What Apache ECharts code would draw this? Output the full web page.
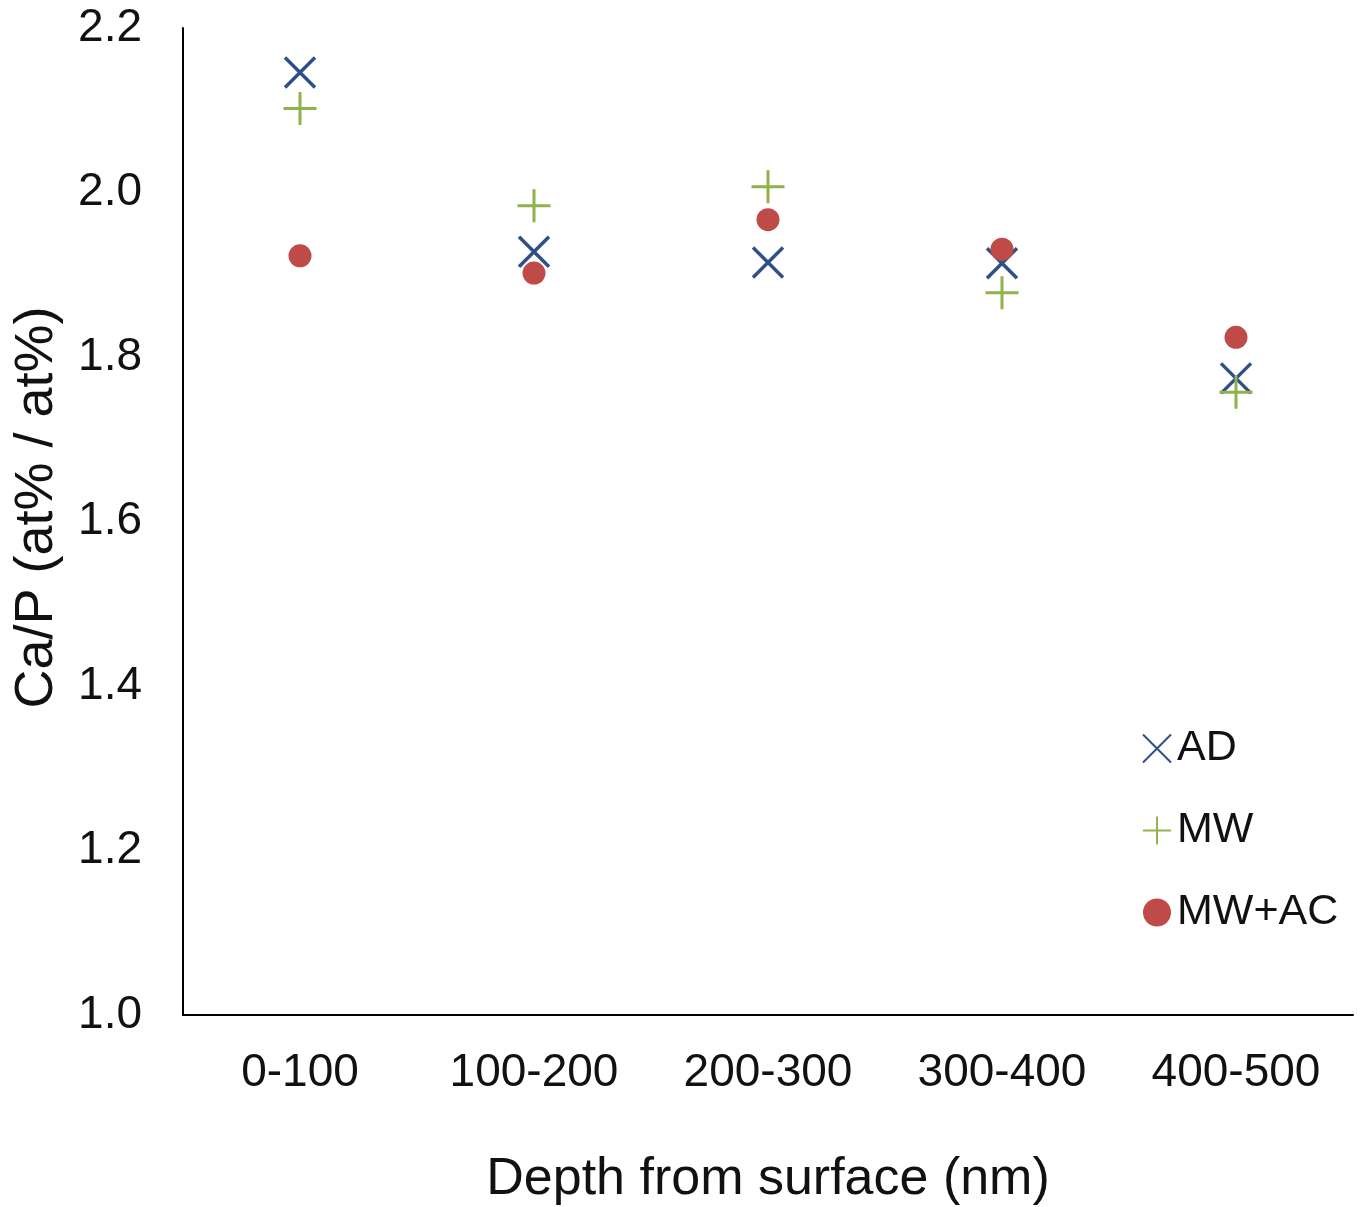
<!DOCTYPE html>
<html>
<head>
<meta charset="utf-8">
<script src="https://cdn.jsdelivr.net/npm/echarts@6/dist/echarts.min.js"></script>
<style>
html, body { margin: 0; padding: 0; background: #fff; }
#chart { width: 1360px; height: 1207px; }
</style>
</head>
<body>
<div id="chart"></div>
<script>
const categories = ['0-100', '100-200', '200-300', '300-400', '400-500']
const adValues = [2.146, 1.928, 1.915, 1.914, 1.774]
const mwValues = [2.102, 1.984, 2.007, 1.878, 1.757]
const mwacValues = [1.923, 1.902, 1.967, 1.931, 1.824]

const crossPath = 'path://M0,0 L10,10 M10,0 L0,10'
const plusPath = 'path://M5,0 L5,10 M0,5 L10,5'
const font = 'Liberation Sans, Arial, sans-serif'
const textColor = '#111'

const chart = echarts.init(document.getElementById('chart'))
chart.setOption({
    animation: false,
    backgroundColor: '#fff',
    textStyle: { fontFamily: font },
    grid: { left: 183, right: 7, top: 28, bottom: 192, outerBoundsMode: 'none', containLabel: false },
    legend: {
        orient: 'vertical',
        left: 1137,
        top: 722,
        itemGap: 39,
        itemWidth: 28,
        itemHeight: 28,
        textStyle: { fontSize: 43, color: textColor, fontFamily: font, padding: [0, 0, 0, 1] },
        data: ['AD', 'MW', 'MW+AC']
    },
    xAxis: {
        type: 'category',
        data: categories,
        boundaryGap: true,
        axisLine: { lineStyle: { color: '#000', width: 2 } },
        axisTick: { show: false },
        axisLabel: { fontSize: 46, color: textColor, margin: 35 },
        name: 'Depth from surface (nm)',
        nameLocation: 'middle',
        nameGap: 139,
        nameTextStyle: { fontSize: 52, color: textColor }
    },
    yAxis: {
        type: 'value',
        min: 1.0,
        max: 2.2,
        interval: 0.2,
        axisLine: { show: true, lineStyle: { color: '#000', width: 2 } },
        axisTick: { show: false },
        splitLine: { show: false },
        axisLabel: { fontSize: 46, color: textColor, margin: 41, formatter: v => v.toFixed(1) },
        name: 'Ca/P (at% / at%)',
        nameLocation: 'middle',
        nameGap: 119,
        nameTextStyle: { fontSize: 54, color: textColor, padding: [0, 0, 0, 28] }
    },
    series: [
        {
            name: 'AD',
            type: 'scatter',
            data: adValues,
            symbol: crossPath,
            symbolSize: 30,
            itemStyle: { color: '#2f4f88', borderColor: '#2f4f88', borderWidth: 3.5, opacity: 1 }
        },
        {
            name: 'MW',
            type: 'scatter',
            data: mwValues,
            symbol: plusPath,
            symbolSize: 33,
            itemStyle: { color: '#8fb34a', borderColor: '#8fb34a', borderWidth: 3, opacity: 1 }
        },
        {
            name: 'MW+AC',
            type: 'scatter',
            data: mwacValues,
            symbol: 'circle',
            symbolSize: 23,
            itemStyle: { color: '#bf4b48', opacity: 1 }
        }
    ]
})
</script>
</body>
</html>
